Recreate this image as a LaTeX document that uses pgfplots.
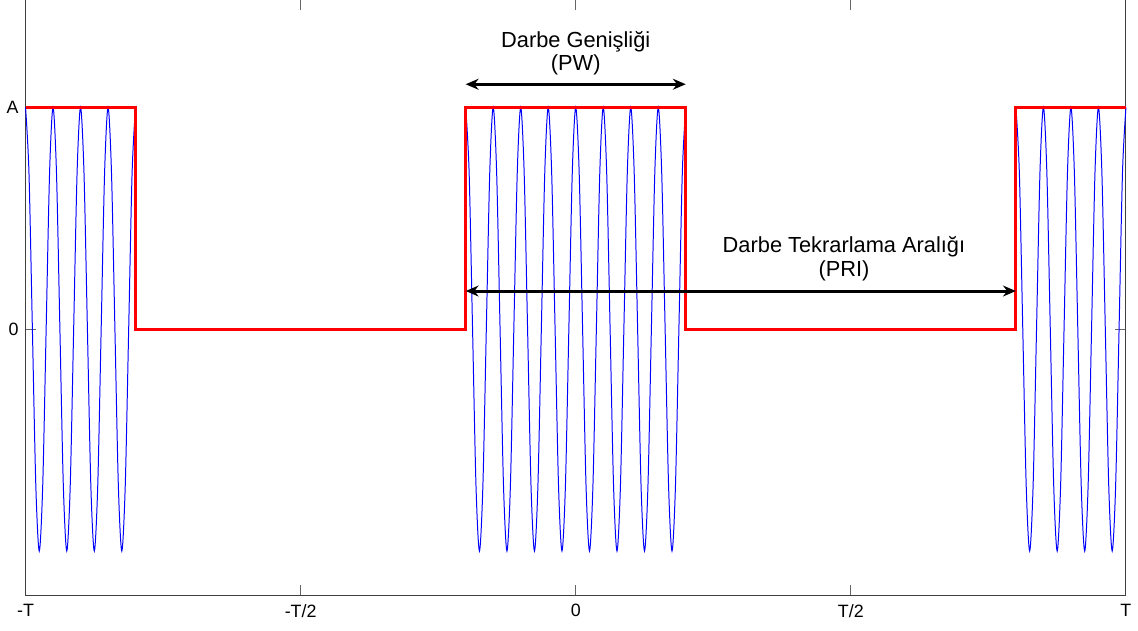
\documentclass[border=0pt]{standalone}
\usepackage{fontspec}
\setmainfont{Liberation Sans}
\usepackage{pgfplots}
\pgfplotsset{compat=1.18}
\usetikzlibrary{arrows.meta}

% carrier: 8 samples per period, T = 160 units (20 periods)
\pgfplotstableread{
x y
-160 1
-159 0.7071
-158 0
-157 -0.7071
-156 -1
-155 -0.7071
-154 0
-153 0.7071
-152 1
-151 0.7071
-150 0
-149 -0.7071
-148 -1
-147 -0.7071
-146 0
-145 0.7071
-144 1
-143 0.7071
-142 0
-141 -0.7071
-140 -1
-139 -0.7071
-138 0
-137 0.7071
-136 1
-135 0.7071
-134 0
-133 -0.7071
-132 -1
-131 -0.7071
-130 0
-129 0.7071
-128 1
}\leftpulse

\pgfplotstableread{
x y
-32 1
-31 0.7071
-30 0
-29 -0.7071
-28 -1
-27 -0.7071
-26 0
-25 0.7071
-24 1
-23 0.7071
-22 0
-21 -0.7071
-20 -1
-19 -0.7071
-18 0
-17 0.7071
-16 1
-15 0.7071
-14 0
-13 -0.7071
-12 -1
-11 -0.7071
-10 0
-9 0.7071
-8 1
-7 0.7071
-6 0
-5 -0.7071
-4 -1
-3 -0.7071
-2 0
-1 0.7071
0 1
1 0.7071
2 0
3 -0.7071
4 -1
5 -0.7071
6 0
7 0.7071
8 1
9 0.7071
10 0
11 -0.7071
12 -1
13 -0.7071
14 0
15 0.7071
16 1
17 0.7071
18 0
19 -0.7071
20 -1
21 -0.7071
22 0
23 0.7071
24 1
25 0.7071
26 0
27 -0.7071
28 -1
29 -0.7071
30 0
31 0.7071
32 1
}\midpulse

\pgfplotstableread{
x y
128 1
129 0.7071
130 0
131 -0.7071
132 -1
133 -0.7071
134 0
135 0.7071
136 1
137 0.7071
138 0
139 -0.7071
140 -1
141 -0.7071
142 0
143 0.7071
144 1
145 0.7071
146 0
147 -0.7071
148 -1
149 -0.7071
150 0
151 0.7071
152 1
153 0.7071
154 0
155 -0.7071
156 -1
157 -0.7071
158 0
159 0.7071
160 1
}\rightpulse

\begin{document}
\begin{tikzpicture}
\begin{axis}[
    scale only axis,
    width=555pt, height=301pt,
    xmin=-160, xmax=160,
    ymin=-1.2, ymax=1.49,
    xtick={-160,-80,0,80,160},
    xticklabels={-T,-T/2,0,T/2,T},
    ytick={0,1},
    yticklabels={0,A},
    /pgf/number format/assume math mode=true,
    tick label style={font=\fontsize{9}{10}\selectfont},
    major tick length=5.5pt,
    tick style={black!60, line width=0.5pt},
    axis line style={black!75, line width=0.5pt},
    xticklabel style={yshift=-1pt},
    clip=false,
    ]
    \addplot[blue, line width=0.5pt, smooth] table {\leftpulse};
    \addplot[blue, line width=0.5pt, smooth] table {\midpulse};
    \addplot[blue, line width=0.5pt, smooth] table {\rightpulse};

    \addplot[red, line width=1.5pt, line join=miter] coordinates {
        (-160,1) (-128,1) (-128,0) (-32,0) (-32,1) (32,1) (32,0) (128,0) (128,1) (160,1)
    };

    \draw[{Stealth[length=6.5pt,width=5.5pt]}-{Stealth[length=6.5pt,width=5.5pt]}, line width=1.5pt]
        (axis cs:-32,1.104) -- (axis cs:32,1.104);
    \draw[{Stealth[length=6.5pt,width=5.5pt]}-{Stealth[length=6.5pt,width=5.5pt]}, line width=1.5pt]
        (axis cs:-32,0.172) -- (axis cs:128,0.172);

    \node[align=center, font=\fontsize{11}{12}\selectfont]
        at (axis cs:0,1.244) {Darbe Genişliği\\(PW)};
    \node[align=center, font=\fontsize{11}{12}\selectfont]
        at (axis cs:78,0.317) {Darbe Tekrarlama Aralığı\\(PRI)};
\end{axis}
\path (current bounding box.south west) ++(0,-3pt) coordinate (sw);
\path (current bounding box.north east) coordinate (ne);
\path (current axis.north) ++(0,-0.7pt) coordinate (axtop);
\pgfresetboundingbox
\path[use as bounding box] (sw) rectangle (ne |- axtop);
\end{tikzpicture}
\end{document}
